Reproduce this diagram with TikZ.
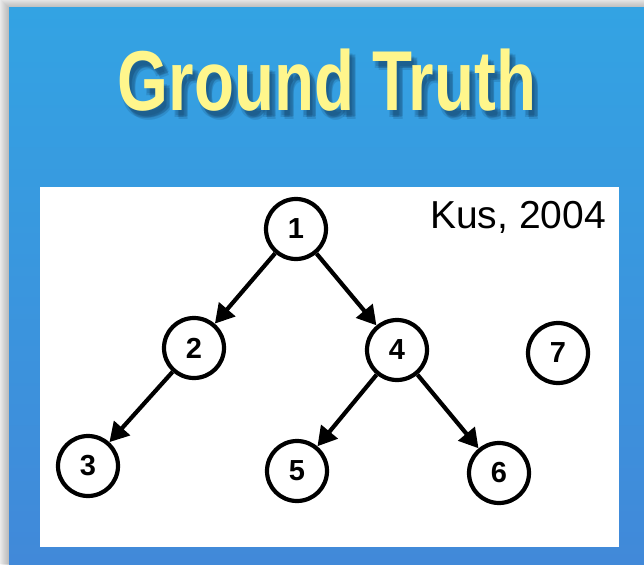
\documentclass[tikz,border=0pt]{standalone}
\usepackage{fontspec}
\setmainfont{Liberation Sans}
\usetikzlibrary{arrows.meta}
\definecolor{pagegray}{HTML}{EFEFEF}
\definecolor{paneltop}{HTML}{33A3E3}
\definecolor{panelbot}{HTML}{4189D9}
\definecolor{titleyellow}{HTML}{FFF68C}
\definecolor{titleshadow}{HTML}{10385C}
\tikzset{
  treenode/.style={circle, draw=black, fill=white, line width=4.2pt,
    minimum size=60pt, inner sep=0pt, font=\bfseries\fontsize{29}{29}\selectfont},
  edge/.style={line width=4.2pt, -{Triangle[length=19pt,width=21pt]}},
  titletext/.style={anchor=base, inner sep=0pt, font=\bfseries\fontsize{85}{85}\selectfont},
}
\newcommand{\titlestr}{\scalebox{0.77}[1]{Ground Truth}}
\begin{document}
\begin{tikzpicture}[x=1pt,y=-1pt]
  \useasboundingbox (0,0) rectangle (644,564);
  % page and drop shadow of the panel
  \fill[pagegray] (0,0) rectangle (644,564);
  \foreach \k in {1,...,9}
    \fill[black,opacity=0.022] (9-\k,8-\k) rectangle (650,570);
  % blue panel
  \shade[top color=paneltop, bottom color=panelbot] (9,8) rectangle (644,564);
  % title with a soft shadow
  \foreach \dx/\dy in {3/5,5/7,6/9,2/7,6/6}
    \node[titletext, text=titleshadow, opacity=0.17] at (327+\dx,111+\dy) {\titlestr};
  \node[titletext, text=titleyellow] (title) at (327,111) {\titlestr};
  % white card
  \fill[white] (40,187) rectangle (619,547);
  \node[anchor=base east, inner sep=0pt, font=\fontsize{39}{39}\selectfont] (cite) at (606,228) {Kus, 2004};
  % tree
  \node[treenode] (n1) at (296,229) {1};
  \node[treenode] (n2) at (194,348) {2};
  \node[treenode] (n4) at (397,350) {4};
  \node[treenode] (n7) at (558,353) {7};
  \node[treenode] (n3) at (88,466) {3};
  \node[treenode] (n5) at (297,471) {5};
  \node[treenode] (n6) at (499,473) {6};
  \draw[edge] (n1) -- (n2);
  \draw[edge] (n1) -- (n4);
  \draw[edge] (n2) -- (n3);
  \draw[edge] (n4) -- (n5);
  \draw[edge] (n4) -- (n6);
\end{tikzpicture}
\end{document}
